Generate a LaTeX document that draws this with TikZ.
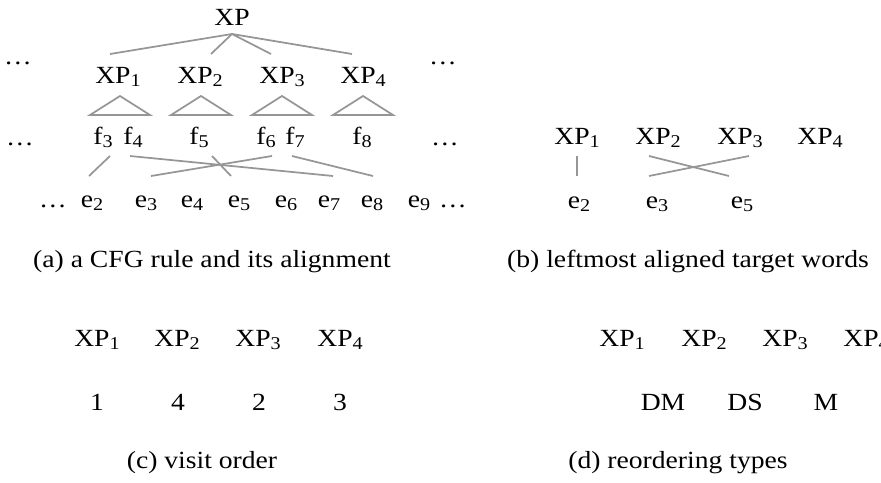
\documentclass[tikz,border=0pt]{standalone}
\usepackage{fontspec}
\setmainfont[FakeStretch=1.12]{Liberation Serif}
\definecolor{lg}{RGB}{150,150,150}
\newcommand{\sbs}[1]{\raisebox{-0.3ex}{\fontsize{13.5}{14}\selectfont #1}}
\begin{document}
\begin{tikzpicture}[x=0.75pt,y=-0.75pt,
  lbl/.style={anchor=base,inner sep=0pt,font=\fontsize{18.5}{22}\selectfont},
  ln/.style={draw=lg,line width=1.3pt}]
\useasboundingbox (0,0) rectangle (881,482);
% ---------- (a) ----------
\node[lbl] (xp) at (232,25) {XP};
\node[lbl] (dl1) at (18,64) {…};
\node[lbl] (dr1) at (443,64) {…};
\node[lbl] (a1) at (118,83) {XP\sbs{1}};
\node[lbl] (a2) at (200,83) {XP\sbs{2}};
\node[lbl] (a3) at (282,83) {XP\sbs{3}};
\node[lbl] (a4) at (363,83) {XP\sbs{4}};
\coordinate (apex) at (232,34);
\coordinate (c1) at (110,54);
\coordinate (c2) at (211,54);
\coordinate (c3) at (271,54);
\coordinate (c4) at (352,54);
\foreach \c in {c1,c2,c3,c4} \draw[ln] (apex) -- (\c);
\foreach \x in {120,201,282,363}
  \draw[ln,line join=miter] (\x,96) -- (\x-30,115) -- (\x+30,115) -- cycle;
\node[lbl] (dl2) at (20,145) {…};
\node[lbl] (dr2) at (445,145) {…};
\node[lbl] (f3) at (103,144) {f\sbs{3}};
\node[lbl] (f4) at (133,144) {f\sbs{4}};
\node[lbl] (f5) at (199,144) {f\sbs{5}};
\node[lbl] (f6) at (266,144) {f\sbs{6}};
\node[lbl] (f7) at (295,144) {f\sbs{7}};
\node[lbl] (f8) at (362,144) {f\sbs{8}};
\node[lbl] (dl3) at (53,207) {…};
\node[lbl] (e2) at (92,207) {e\sbs{2}};
\node[lbl] (e3) at (146,207) {e\sbs{3}};
\node[lbl] (e4) at (192,207) {e\sbs{4}};
\node[lbl] (e5) at (239,207) {e\sbs{5}};
\node[lbl] (e6) at (286,207) {e\sbs{6}};
\node[lbl] (e7) at (329,207) {e\sbs{7}};
\node[lbl] (e8) at (372,207) {e\sbs{8}};
\node[lbl] (e9) at (419,207) {e\sbs{9}};
\node[lbl] (dr3) at (453,207) {…};
\coordinate (f3b) at (110,156); \coordinate (e2t) at (89,176);
\coordinate (f4b) at (130,156); \coordinate (e7t) at (333,176);
\coordinate (f5b) at (212,156); \coordinate (e5t) at (231,176);
\coordinate (f6b) at (272,156); \coordinate (e3t) at (151,176);
\coordinate (f7b) at (292,156); \coordinate (e8t) at (373,176);
\draw[ln] (f3b) -- (e2t);
\draw[ln] (f4b) -- (e7t);
\draw[ln] (f5b) -- (e5t);
\draw[ln] (f6b) -- (e3t);
\draw[ln] (f7b) -- (e8t);
\node[lbl] (capa) at (212,267) {(a) a CFG rule and its alignment};
% ---------- (b) ----------
\node[lbl] (b1) at (577,144) {XP\sbs{1}};
\node[lbl] (b2) at (658,144) {XP\sbs{2}};
\node[lbl] (b3) at (740,144) {XP\sbs{3}};
\node[lbl] (b4) at (820,144) {XP\sbs{4}};
\node[lbl] (be2) at (579,208) {e\sbs{2}};
\node[lbl] (be3) at (657,208) {e\sbs{3}};
\node[lbl] (be5) at (742,208) {e\sbs{5}};
\coordinate (b1b) at (577,156); \coordinate (be2t) at (577,176);
\coordinate (b2b) at (649,156); \coordinate (be5t) at (729,176);
\coordinate (b3b) at (749,156); \coordinate (be3t) at (649,176);
\draw[ln] (b1b) -- (be2t);
\draw[ln] (b2b) -- (be5t);
\draw[ln] (b3b) -- (be3t);
\node[lbl] (capb) at (688,267) {(b) leftmost aligned target words};
% ---------- (c) ----------
\node[lbl] (c1n) at (97,346) {XP\sbs{1}};
\node[lbl] (c2n) at (177,346) {XP\sbs{2}};
\node[lbl] (c3n) at (258,346) {XP\sbs{3}};
\node[lbl] (c4n) at (340,346) {XP\sbs{4}};
\node[lbl] (o1) at (97,410) {1};
\node[lbl] (o2) at (178,410) {4};
\node[lbl] (o3) at (259,410) {2};
\node[lbl] (o4) at (340,410) {3};
\node[lbl] (capc) at (202,468) {(c) visit order};
% ---------- (d) ----------
\node[lbl] (d1) at (622,346) {XP\sbs{1}};
\node[lbl] (d2) at (704,346) {XP\sbs{2}};
\node[lbl] (d3) at (785,346) {XP\sbs{3}};
\node[lbl] (d4) at (866,346) {XP\sbs{4}};
\node[lbl] (t1) at (663,410) {DM};
\node[lbl] (t2) at (745,410) {DS};
\node[lbl] (t3) at (826,410) {M};
\node[lbl] (capd) at (678,468) {(d) reordering types};
\end{tikzpicture}
\end{document}
